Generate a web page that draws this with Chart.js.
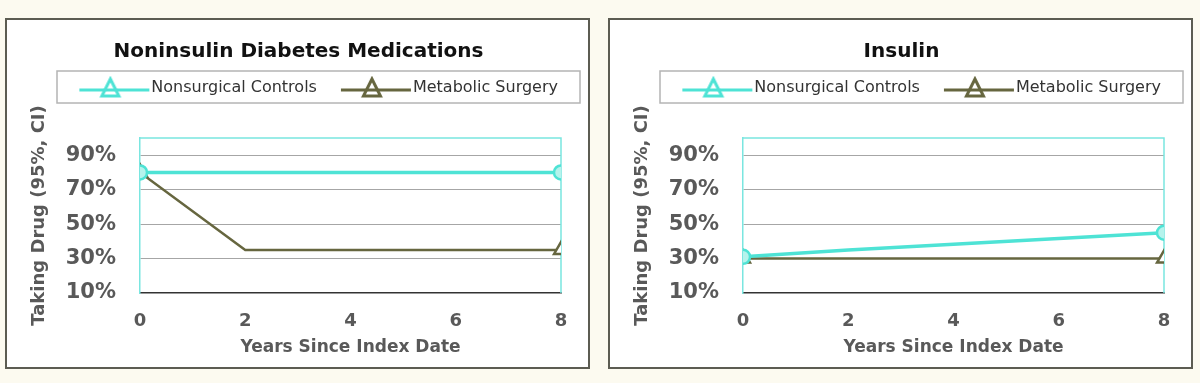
<!DOCTYPE html>
<html>
<head>
<meta charset="utf-8">
<script src="https://cdn.jsdelivr.net/npm/chart.js@4/dist/chart.umd.min.js"></script>
<style>
    body { margin: 0; width: 1200px; height: 383px; background: #fcfaf0; position: relative; overflow: hidden; }
    .panel { position: absolute; top: 18px; width: 585px; height: 351px; box-sizing: border-box;
             border: 2px solid #5c5c52; background: #fff; }
    .panel canvas { display: block; }
</style>
</head>
<body>
<div class="panel" style="left:5px"><canvas id="chart-left"></canvas></div>
<div class="panel" style="left:608px"><canvas id="chart-right"></canvas></div>
<script>
// chart values
const years = [0, 2, 8];
const seriesNames = ["Nonsurgical Controls", "Metabolic Surgery"];
const noninsulinControls = [80, 80, 80];
const noninsulinSurgery = [80, 35, 35];
const insulinControls = [31, 35, 45];
const insulinSurgery = [30, 30, 30];
const yTicks = [10, 30, 50, 70, 90];
const chartTitles = ["Noninsulin Diabetes Medications", "Insulin"];

const CYAN = "#4ee3d5";
const OLIVE = "#66663f";
const GRAY_TEXT = "#595959";
const FONT = "'DejaVu Sans', Verdana, sans-serif";

// legend symbol: short line with an open triangle on it
function makeLegendIcon(color) {
    const c = document.createElement("canvas");
    c.width = 94;
    c.height = 24;
    const g = c.getContext("2d");
    g.strokeStyle = color;
    g.lineWidth = 3;
    g.beginPath();
    g.moveTo(22, 14);
    g.lineTo(92, 14);
    g.stroke();
    g.lineWidth = 3;
    g.beginPath();
    g.moveTo(53, 3);
    g.lineTo(61.5, 20);
    g.lineTo(44.5, 20);
    g.closePath();
    g.stroke();
    return c;
}
const legendIcons = [makeLegendIcon(CYAN), makeLegendIcon(OLIVE)];

// cyan top/right edge of the plot area
const plotFrame = {
    id: "plotFrame",
    beforeDatasetsDraw(chart) {
        const { ctx, chartArea: a } = chart;
        ctx.save();
        ctx.strokeStyle = "#7ae6e0";
        ctx.lineWidth = 1.5;
        ctx.beginPath();
        ctx.moveTo(a.left, a.top);
        ctx.lineTo(a.right, a.top);
        ctx.lineTo(a.right, a.bottom);
        ctx.stroke();
        ctx.restore();
    }
};

// extra room under the legend
const legendGap = {
    id: "legendGap",
    beforeInit(chart) {
        const fit = chart.legend.fit;
        chart.legend.fit = function() {
            fit.bind(chart.legend)();
            this.height += 32;
        };
    }
};

// grey box round the legend
const legendBox = {
    id: "legendBox",
    afterDraw(chart) {
        const lg = chart.legend;
        const ctx = chart.ctx;
        ctx.save();
        ctx.strokeStyle = "#b4b4b4";
        ctx.lineWidth = 1.5;
        ctx.strokeRect(lg.left + 28, lg.top + 1, (lg.right + 12) - (lg.left + 28), 32);
        ctx.restore();
    }
};

function markerRadius(r) {
    return ctx => (ctx.dataIndex === 0 || ctx.dataIndex === ctx.dataset.data.length - 1) ? r : 0;
}

function makeChart(canvasId, title, controls, surgery) {
    const el = document.getElementById(canvasId);
    el.width = 581;
    el.height = 347;
    return new Chart(el, {
        type: "line",
        data: {
            datasets: [{
                label: seriesNames[0],
                data: years.map((x, i) => ({ x: x, y: controls[i] })),
                borderColor: CYAN,
                borderWidth: 3.5,
                pointStyle: "circle",
                pointRadius: markerRadius(7),
                pointBackgroundColor: "#b5f3ec",
                pointBorderColor: CYAN,
                pointBorderWidth: 2.5
            }, {
                label: seriesNames[1],
                data: years.map((x, i) => ({ x: x, y: surgery[i] })),
                borderColor: OLIVE,
                borderWidth: 2.5,
                pointStyle: "triangle",
                pointRadius: markerRadius(8),
                pointBackgroundColor: "#ffffff",
                pointBorderColor: OLIVE,
                pointBorderWidth: 2.5
            }]
        },
        options: {
            responsive: false,
            animation: false,
            layout: { padding: { left: 22, right: 20, top: 0, bottom: 0 } },
            plugins: {
                tooltip: { enabled: false },
                title: {
                    display: true,
                    text: title,
                    color: "#111",
                    font: { family: FONT, size: 20, weight: "bold" },
                    padding: { top: 20, bottom: 6 }
                },
                legend: {
                    position: "top",
                    align: "end",
                    labels: {
                        usePointStyle: true,
                        pointStyleWidth: 78,
                        padding: 10,
                        color: "#333",
                        font: { family: FONT, size: 16 },
                        generateLabels(chart) {
                            const items = Chart.defaults.plugins.legend.labels.generateLabels(chart);
                            items.forEach((it, i) => { it.pointStyle = legendIcons[i]; });
                            return items;
                        }
                    }
                }
            },
            scales: {
                x: {
                    type: "linear",
                    min: 0,
                    max: 8,
                    ticks: {
                        stepSize: 2,
                        padding: 18,
                        color: GRAY_TEXT,
                        font: { family: FONT, size: 18, weight: "bold" }
                    },
                    grid: { display: false, drawTicks: false },
                    border: { display: true, color: "#333", width: 1.5 },
                    title: {
                        display: true,
                        text: "Years Since Index Date",
                        color: GRAY_TEXT,
                        font: { family: FONT, size: 17, weight: "bold" },
                        padding: { top: 5, bottom: 9 }
                    },
                    afterFit(s) {
                        s.paddingRight = 27;
                        s.height = 74;
                    }
                },
                y: {
                    min: 10,
                    max: 100,
                    afterBuildTicks(s) { s.ticks = yTicks.map(v => ({ value: v })); },
                    ticks: {
                        padding: 24,
                        color: GRAY_TEXT,
                        font: { family: FONT, size: 21, weight: "bold" },
                        callback: v => v + "%"
                    },
                    grid: {
                        drawTicks: false,
                        color: ctx => ctx.tick && ctx.tick.value === 10 ? "rgba(0,0,0,0)" : "#a6a6a6",
                        lineWidth: 1
                    },
                    border: { display: true, color: "#7ae6e0", width: 1.5 },
                    title: {
                        display: true,
                        text: "Taking Drug (95%, CI)",
                        color: GRAY_TEXT,
                        font: { family: FONT, size: 18, weight: "bold" },
                        padding: { top: 0, bottom: 0 }
                    },
                    afterFit(s) { s.width = 111; }
                }
            }
        },
        plugins: [legendGap, plotFrame, legendBox]
    });
}

makeChart("chart-left", chartTitles[0], noninsulinControls, noninsulinSurgery);
makeChart("chart-right", chartTitles[1], insulinControls, insulinSurgery);
</script>
</body>
</html>
